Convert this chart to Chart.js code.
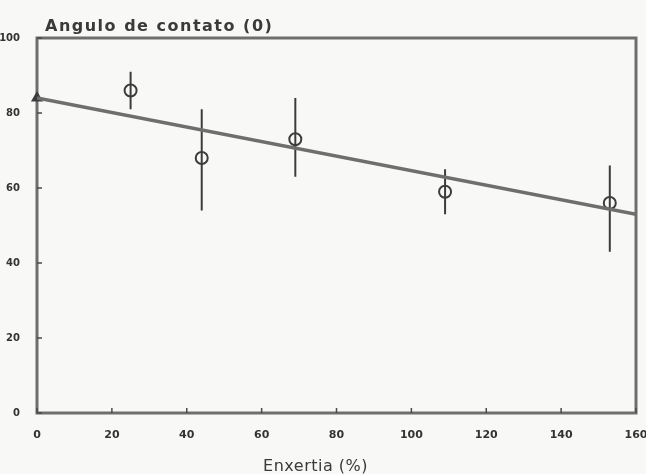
<!DOCTYPE html>
<html>
<head>
<meta charset="utf-8">
<script src="https://cdn.jsdelivr.net/npm/chart.js@4.4.1/dist/chart.umd.min.js"></script>
<style>
  html, body { margin: 0; padding: 0; background: #f8f8f6; }
  #wrap { width: 646px; height: 474px; }
</style>
</head>
<body>
<div id="wrap"><canvas id="c" width="646" height="474"></canvas></div>
<script>
// ---- data ----
const chartTitle = 'Angulo de contato (0)';
const xAxisTitle = 'Enxertia (%)';
const xTickValues = [0, 20, 40, 60, 80, 100, 120, 140, 160];
const yTickValues = [0, 20, 40, 60, 80, 100];
const measX    = [0, 25, 44, 69, 109, 153];
const measY    = [84, 86, 68, 73, 59, 56];
const errLow   = [84, 81, 54, 63, 53, 43];
const errHigh  = [84, 91, 81, 84, 65, 66];
const fitX     = [0, 160];
const fitY     = [84, 53];

const ink = '#4a4a4a';
const lineGray = '#6e6e6e';

const framePlugin = {
  id: 'frame',
  beforeDatasetsDraw(chart) {
    const { ctx, chartArea: a, scales: { x, y } } = chart;
    ctx.save();
    ctx.strokeStyle = lineGray;
    ctx.lineWidth = 3;
    ctx.strokeRect(a.left, a.top, a.right - a.left, a.bottom - a.top);
    ctx.strokeStyle = ink;
    ctx.lineWidth = 1.5;
    xTickValues.forEach(v => {
      const px = x.getPixelForValue(v);
      ctx.beginPath(); ctx.moveTo(px, a.bottom); ctx.lineTo(px, a.bottom - 5); ctx.stroke();
    });
    yTickValues.forEach(v => {
      const py = y.getPixelForValue(v);
      ctx.beginPath(); ctx.moveTo(a.left, py); ctx.lineTo(a.left + 5, py); ctx.stroke();
    });
    ctx.strokeStyle = '#3c3c3c';
    ctx.lineWidth = 2;
    measX.forEach((mx, i) => {
      const px = x.getPixelForValue(mx);
      ctx.beginPath();
      ctx.moveTo(px, y.getPixelForValue(errLow[i]));
      ctx.lineTo(px, y.getPixelForValue(errHigh[i]));
      ctx.stroke();
    });
    ctx.restore();
  },
  afterDraw(chart) {
    const { ctx, chartArea: a } = chart;
    ctx.save();
    ctx.fillStyle = '#3a3a3a';
    ctx.font = 'bold 16px "DejaVu Sans"';
    ctx.letterSpacing = '1.5px';
    ctx.textBaseline = 'alphabetic';
    ctx.textAlign = 'left';
    ctx.fillText(chartTitle, a.left + 8, a.top - 7);
    ctx.letterSpacing = '0.5px';
    ctx.font = '16px "DejaVu Sans"';
    ctx.textAlign = 'center';
    ctx.fillText(xAxisTitle, a.left + (a.right - a.left) * 0.465, a.bottom + 58);
    ctx.restore();
  }
};

new Chart(document.getElementById('c'), {
  data: {
    datasets: [
      {
        type: 'line',
        data: fitX.map((v, i) => ({ x: v, y: fitY[i] })),
        borderColor: lineGray,
        borderWidth: 3.5,
        pointRadius: 0,
        fill: false
      },
      {
        type: 'scatter',
        clip: false,
        data: measX.map((v, i) => ({ x: v, y: measY[i] })),
        pointStyle: measX.map((v, i) => i === 0 ? 'triangle' : 'circle'),
        pointRadius: measX.map((v, i) => i === 0 ? 5 : 6),
        pointBorderWidth: 2,
        pointBorderColor: '#3c3c3c',
        pointBackgroundColor: measX.map((v, i) => i === 0 ? '#3c3c3c' : 'rgba(0,0,0,0)')
      }
    ]
  },
  options: {
    responsive: false,
    animation: false,
    layout: { padding: { top: 38, right: 10, left: 0, bottom: 0 } },
    plugins: { legend: { display: false }, tooltip: { enabled: false } },
    scales: {
      x: {
        type: 'linear', min: 0, max: 160,
        afterBuildTicks: s => { s.ticks = xTickValues.map(v => ({ value: v })); },
        afterFit: s => { s.height = 61; s.paddingRight = 0; s.paddingLeft = 0; },
        grid: { display: false },
        border: { display: false },
        ticks: { color: '#333', padding: 8, font: { family: 'DejaVu Sans', size: 11, weight: 'bold' } }
      },
      y: {
        type: 'linear', min: 0, max: 100,
        afterBuildTicks: s => { s.ticks = yTickValues.map(v => ({ value: v })); },
        afterFit: s => { s.width = 37; s.paddingTop = 0; s.paddingBottom = 0; },
        grid: { display: false },
        border: { display: false },
        ticks: { color: '#333', padding: 9, font: { family: 'DejaVu Sans', size: 10, weight: 'bold' } }
      }
    }
  },
  plugins: [framePlugin]
});
</script>
</body>
</html>
